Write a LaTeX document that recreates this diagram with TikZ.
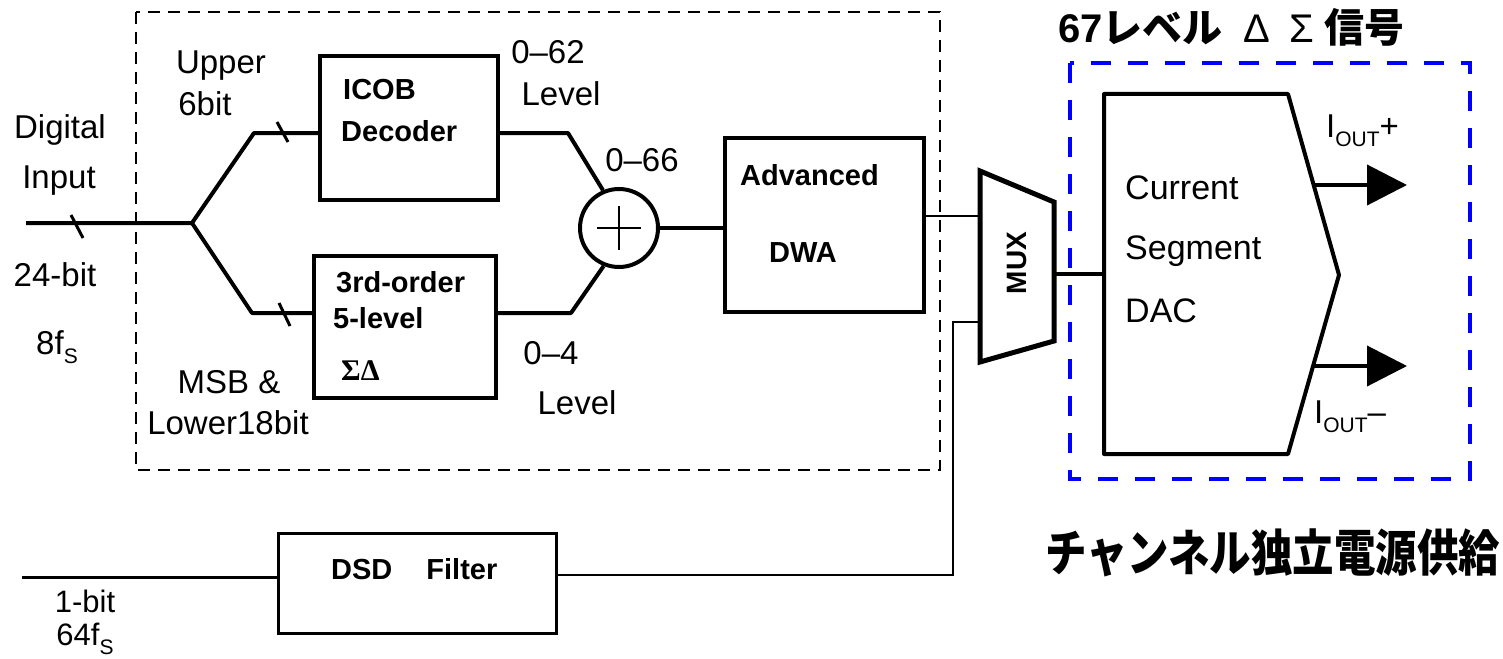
\documentclass[tikz,border=0pt]{standalone}
\usepackage{fontspec}
\setmainfont{Liberation Sans}
\newfontfamily\jp{Noto Sans CJK JP}
\newfontfamily\serifb{Liberation Serif}
\usetikzlibrary{arrows.meta,calc}
\newcommand{\sbs}[1]{\raisebox{-0.3em}{\fontsize{21}{21}\selectfont #1}}
\tikzset{
  thk/.style={line width=4pt},
  thn/.style={line width=2pt},
  blk/.style={draw,line width=4pt,inner sep=0pt},
  slashmark/.style={line width=3pt},
  rt/.style={inner sep=0pt,anchor=base,font=\fontsize{33}{36}\selectfont},
  st/.style={inner sep=0pt,anchor=base,font=\fontsize{31}{34}\selectfont},
  bt/.style={inner sep=0pt,anchor=base west,font=\fontsize{29}{33}\selectfont\bfseries},
  dt/.style={inner sep=0pt,anchor=base west,font=\fontsize{34}{38}\selectfont},
  outarrow/.style={line width=4pt,-{Triangle[length=40pt,width=40pt]}},
}
\begin{document}
\begin{tikzpicture}[x=1pt,y=-1pt]
\useasboundingbox (0,0) rectangle (1503,658);
% frames
\draw[line width=2pt,dash pattern=on 12pt off 8pt] (136,12) rectangle (940,470);
\draw[blue,line width=4pt,dash pattern=on 20pt off 17pt] (1070,63) rectangle (1470,479);
% blocks
\node[blk,minimum width=178pt,minimum height=144pt] (icob) at (409,128) {};
\node[blk,minimum width=182pt,minimum height=142pt] (sd) at (405,327) {};
\node[draw,circle,line width=4pt,minimum size=78pt,inner sep=0pt] (sum) at (619,228) {};
\draw[line width=2.5pt] ($(sum.center)+(-22,0)$) -- ($(sum.center)+(22,0)$);
\draw[line width=2.5pt] ($(sum.center)+(0,-22)$) -- ($(sum.center)+(0,22)$);
\node[blk,minimum width=199pt,minimum height=174pt] (dwa) at (824.5,225) {};
\node[draw,line width=3pt,inner sep=0pt,minimum width=278pt,minimum height=100pt] (dsd) at (417,583) {};
% MUX
\coordinate (mtl) at (980,171); \coordinate (mtr) at (1054,202);
\coordinate (mbr) at (1054,341); \coordinate (mbl) at (980,362);
\draw[line width=5pt,line join=miter] (mtl) -- (mtr) -- (mbr) -- (mbl) -- cycle;
\node[inner sep=0pt,rotate=90,font=\fontsize{28}{30}\selectfont\bfseries] (muxl) at (1017,263) {MUX};
% DAC
\coordinate (d1) at (1104,94); \coordinate (d2) at (1288,94); \coordinate (d3) at (1339,275);
\coordinate (d4) at (1288,454); \coordinate (d5) at (1104,454);
\draw[line width=4pt,line join=round] (d1) -- (d2) -- (d3) -- (d4) -- (d5) -- cycle;
% input and branches
\coordinate (in) at (26,223); \coordinate (br) at (192,223);
\coordinate (bu) at (254,133); \coordinate (bl) at (252,313);
\draw[thk,line join=round] (in) -- (br) -- (bu) -- (bu -| icob.west);
\draw[thk,line join=round] (br) -- (bl) -- (bl -| sd.west);
\coordinate (s1a) at (71,215); \coordinate (s1b) at (83,238);
\coordinate (s2a) at (277,122); \coordinate (s2b) at (288,142);
\coordinate (s3a) at (279,303); \coordinate (s3b) at (290,326);
\draw[slashmark] (s1a) -- (s1b);
\draw[slashmark] (s2a) -- (s2b);
\draw[slashmark] (s3a) -- (s3b);
% to adder
\coordinate (ou) at (568,133); \coordinate (ol) at (571,313);
\draw[thk,line join=round] (icob.east |- ou) -- (ou) -- (sum.113);
\draw[thk,line join=round] (sd.east |- ol) -- (ol) -- (sum.248);
\draw[thk] (sum.east) -- (sum.east -| dwa.west);
% DWA to MUX
\coordinate (m1) at (980,216);
\draw[thn] (dwa.east |- m1) -- (m1);
\coordinate (mo) at (1054,274);
\draw[thk] (mo) -- (mo -| d1);
% DSD path
\coordinate (dsin) at (22,577);
\draw[line width=3pt] (dsin) -- (dsin -| dsd.west);
\coordinate (dso) at (556,575); \coordinate (dc) at (953,575); \coordinate (dc2) at (953,322); \coordinate (m2) at (980,322);
\draw[thn] (dso) -- (dc) -- (dc2) -- (m2);
% outputs
\coordinate (a1) at (1313,185); \coordinate (a1e) at (1407,185);
\coordinate (a2) at (1313,366); \coordinate (a2e) at (1407,366);
\draw[outarrow] (a1) -- (a1e);
\draw[outarrow] (a2) -- (a2e);
% texts
\node[rt] (t1) at (60,139) {Digital};
\node[rt] (t2) at (59,188) {Input};
\node[rt] (t3) at (55,286) {24-bit};
\node[rt] (t4) at (57,354) {8f\sbs{S}};
\node[rt] (t5) at (221,74) {Upper};
\node[rt] (t6) at (205,116) {6bit};
\node[rt] (t7) at (229,393) {MSB \&};
\node[rt] (t8) at (228,434) {Lower18bit};
\node[rt] (t9) at (548,64) {0–62};
\node[rt] (t10) at (561,106) {Level};
\node[rt] (t11) at (642,171) {0–66};
\node[rt] (t12) at (551,364) {0–4};
\node[rt] (t13) at (577,414) {Level};
\node[st] (t14) at (85,612) {1-bit};
\node[st] (t15) at (85,645) {64f\sbs{S}};
\node[bt] (b1) at (343,100) {ICOB};
\node[bt] (b2) at (341,142) {Decoder};
\node[bt] (b3) at (336,292) {3rd-order};
\node[bt] (b4) at (333,328) {5-level};
\node[inner sep=0pt,anchor=base west,font=\fontsize{30}{32}\selectfont\serifb\bfseries] (b5) at (341,380) {ΣΔ};
\node[bt] (b6) at (740,185) {Advanced};
\node[bt] (b7) at (769,262) {DWA};
\node[bt] (b8) at (331,579) {DSD\hspace{34pt}Filter};
\node[dt] (c1) at (1125,199) {Current};
\node[dt] (c2) at (1125,259) {Segment};
\node[dt] (c3) at (1125,322) {DAC};
\node[inner sep=0pt,anchor=base west,font=\fontsize{33}{36}\selectfont] (io1) at (1326,137) {I\sbs{OUT}+};
\node[inner sep=0pt,anchor=base west,font=\fontsize{33}{36}\selectfont] (io2) at (1314,423) {I\sbs{OUT}–};
\node[inner sep=0pt,anchor=base west,font=\fontsize{40}{44}\selectfont] (title) at (1058,43) {{\bfseries 67}{\jp\bfseries レベル}\hspace{21pt}Δ\hspace{19pt}Σ\hspace{10pt}{\jp\bfseries 信号}};
\node[inner sep=0pt,anchor=base west,xscale=0.83,font=\fontsize{50}{54}\selectfont\jp\bfseries] (jpb) at (1045,571) {チャンネル独立電源供給};
\end{tikzpicture}
\end{document}
